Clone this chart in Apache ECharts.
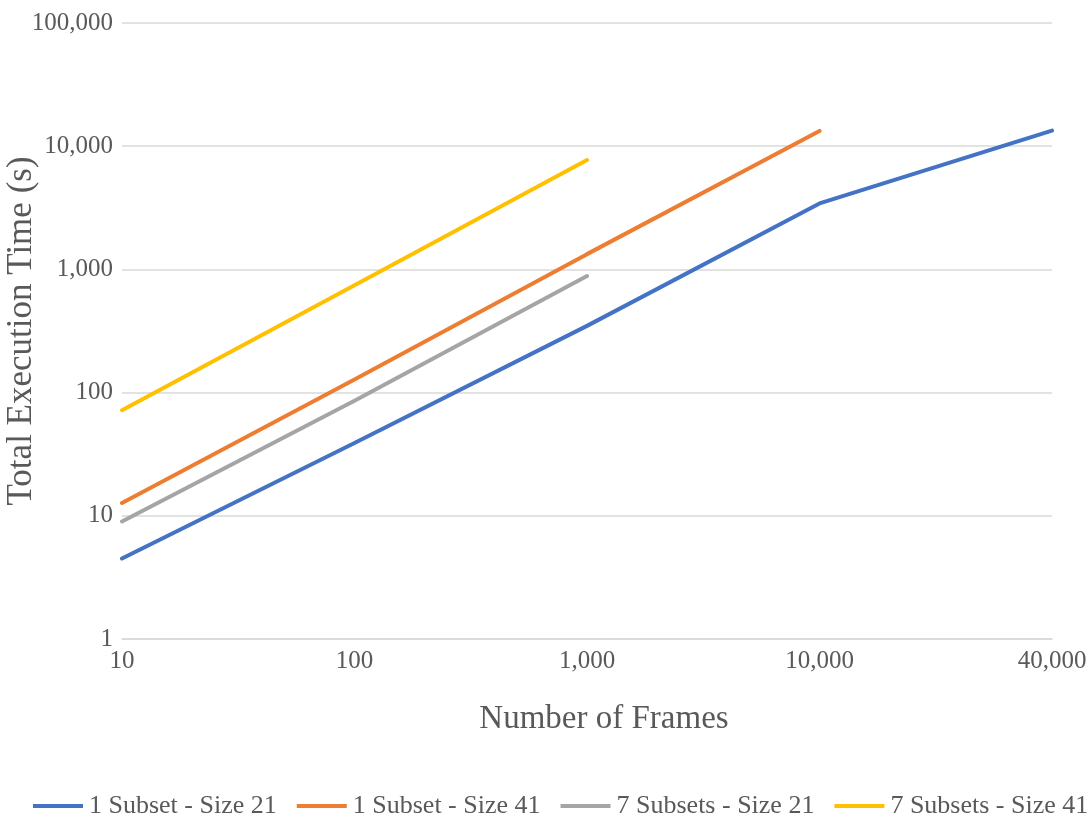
<!DOCTYPE html>
<html>
<head>
<meta charset="utf-8">
<script src="https://cdn.jsdelivr.net/npm/echarts@6/dist/echarts.min.js"></script>
<style>
  html, body { margin: 0; padding: 0; background: #fff; }
  #chart { width: 1092px; height: 820px; }
</style>
</head>
<body>
<div id="chart"></div>
<script>
// Frame counts (category axis) and execution times in seconds
const frames = ['10', '100', '1,000', '10,000', '40,000'];
const subset1Size21 = [4.5, 39, 348, 3430, 13400];
const subset1Size41 = [12.7, 128, 1330, 13300];
const subsets7Size21 = [9.0, 86, 883];
const subsets7Size41 = [72, 745, 7730];
const yTicks = [1, 10, 100, 1000, 10000, 100000];

const FONT = '"Liberation Serif", "Times New Roman", serif';
const TEXT = '#595959';
const GRID = '#d9d9d9';

function fmt(v) {
  return Math.round(v).toString().replace(/\B(?=(\d{3})+(?!\d))/g, ',');
}

function line(name, data, color) {
  return {
    name: name,
    type: 'line',
    data: data,
    symbol: 'none',
    lineStyle: { width: 4, color: color, cap: 'round' },
    itemStyle: { color: color },
    emphasis: { disabled: true }
  };
}

const chart = echarts.init(document.getElementById('chart'), null, { renderer: 'canvas' });
chart.setOption({
  animation: false,
  backgroundColor: '#ffffff',
  textStyle: { fontFamily: FONT, color: TEXT },
  grid: { left: 122, right: 40, top: 23, bottom: 181, containLabel: false, outerBoundsMode: 'none' },
  legend: {
    left: 33,
    bottom: 1,
    padding: 0,
    itemWidth: 50,
    itemHeight: 4,
    itemGap: 20,
    icon: 'rect',
    textStyle: { fontFamily: FONT, fontSize: 26, color: TEXT, padding: [0, 0, 0, 1] },
    data: ['1 Subset - Size 21', '1 Subset - Size 41', '7 Subsets - Size 21', '7 Subsets - Size 41']
  },
  xAxis: {
    type: 'category',
    data: frames,
    boundaryGap: false,
    name: 'Number of Frames',
    nameLocation: 'middle',
    nameGap: 64,
    nameMoveOverlap: false,
    nameTextStyle: { fontFamily: FONT, fontSize: 33, color: TEXT, padding: [0, 0, 0, 34] },
    axisLine: { lineStyle: { color: GRID, width: 1.5 } },
    axisTick: { show: false },
    axisLabel: { fontFamily: FONT, fontSize: 25, color: TEXT, margin: 10 },
    splitLine: { show: false }
  },
  yAxis: {
    type: 'log',
    logBase: 10,
    min: yTicks[0],
    max: yTicks[yTicks.length - 1],
    name: 'Total Execution Time (s)',
    nameLocation: 'middle',
    nameGap: 83,
    nameMoveOverlap: false,
    nameTextStyle: { fontFamily: FONT, fontSize: 35, color: TEXT },
    axisLine: { show: false },
    axisTick: { show: false },
    axisLabel: { fontFamily: FONT, fontSize: 25, color: TEXT, margin: 9, formatter: fmt },
    splitLine: { lineStyle: { color: GRID, width: 1.5 } }
  },
  series: [
    line('1 Subset - Size 21', subset1Size21, '#4472C4'),
    line('1 Subset - Size 41', subset1Size41, '#ED7D31'),
    line('7 Subsets - Size 21', subsets7Size21, '#A5A5A5'),
    line('7 Subsets - Size 41', subsets7Size41, '#FFC000')
  ]
});
</script>
</body>
</html>
